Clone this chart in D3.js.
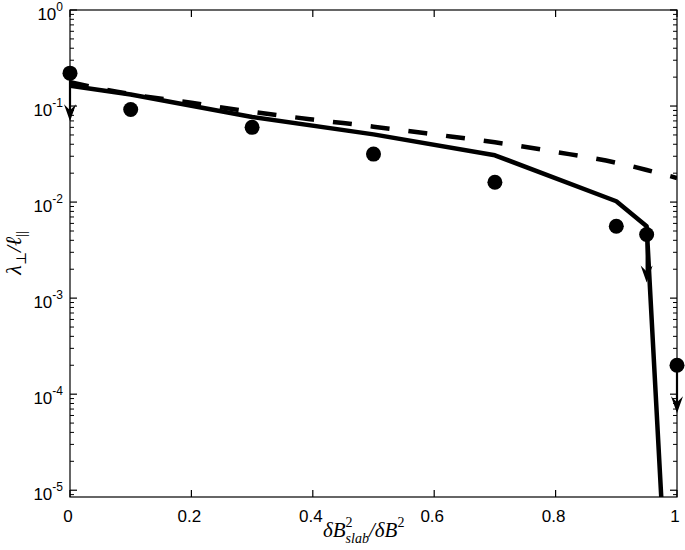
<!DOCTYPE html>
<meta charset="utf-8">
<style>
    body { margin: 0; background: white; }
    svg { display: block; }
    .tick-label { font-family: "Liberation Sans", Arial, sans-serif; font-size: 17px; fill: #000; }
    .math { font-family: "Liberation Serif", "DejaVu Serif", serif; font-style: italic; fill: #000; }
</style>
<svg width="685" height="550"></svg>
<script src="https://cdn.jsdelivr.net/npm/d3@7"></script>
<script>
    // simulation points (filled circles), arrows mark upper limits
    var simX = [0, 0.1, 0.3, 0.5, 0.7, 0.9, 0.95, 1];
    var simY = [0.22, 0.092, 0.060, 0.0316, 0.0161, 0.0056, 0.0046, 0.0002];
    var upperLimit = [true, false, false, false, false, false, true, true];

    // solid curve
    var solidX = [0, 0.1, 0.3, 0.5, 0.7, 0.9, 0.95, 0.98];
    var solidY = [0.163, 0.132, 0.077, 0.0507, 0.0307, 0.0102, 0.0056, 0.0000017];

    // dashed curve
    var dashX = [0, 0.1, 0.2, 0.3, 0.4, 0.5, 0.6, 0.7, 0.8, 0.9, 0.95, 1];
    var dashY = [0.177, 0.133, 0.108, 0.0871, 0.0724, 0.061, 0.0507, 0.0419, 0.0333, 0.0257, 0.0216, 0.0178];

    var xTicks = [0, 0.2, 0.4, 0.6, 0.8, 1];
    var xTickLabels = ["0", "0.2", "0.4", "0.6", "0.8", "1"];
    var yTicks = [1, 0.1, 0.01, 0.001, 0.0001, 0.00001];
    var yTickExp = ["0", "-1", "-2", "-3", "-4", "-5"];

    var svg = d3.select("svg"),
        pLeft = 70, pRight = 677, pTop = 10, pBottom = 497;

    var x = d3.scaleLinear().domain([0, 1]).range([pLeft, pRight]);
    var y = d3.scaleLog().domain([8.5e-6, 1]).range([pBottom, pTop]);

    svg.append("clipPath").attr("id", "plotclip")
        .append("rect")
        .attr("x", pLeft).attr("y", pTop)
        .attr("width", pRight - pLeft).attr("height", pBottom - pTop);

    var line = d3.line()
        .x(function(d) { return x(d[0]); })
        .y(function(d) { return y(d[1]); });

    var plot = svg.append("g").attr("clip-path", "url(#plotclip)");

    plot.append("path")
        .datum(d3.zip(dashX, dashY))
        .attr("d", line.curve(d3.curveMonotoneX))
        .attr("fill", "none")
        .attr("stroke", "#000")
        .attr("stroke-width", 4.5)
        .attr("stroke-dasharray", "19,19");

    plot.append("path")
        .datum(d3.zip(solidX, solidY))
        .attr("d", line.curve(d3.curveLinear))
        .attr("fill", "none")
        .attr("stroke", "#000")
        .attr("stroke-width", 4.5)
        .attr("stroke-linejoin", "round");

    // upper limit arrows, half a decade long
    var pts = d3.zip(simX, simY, upperLimit);
    var arrows = svg.append("g").selectAll("g")
        .data(pts.filter(function(d) { return d[2]; }))
        .enter().append("g");

    arrows.append("line")
        .attr("x1", function(d) { return x(d[0]); })
        .attr("x2", function(d) { return x(d[0]); })
        .attr("y1", function(d) { return y(d[1]); })
        .attr("y2", function(d) { return y(d[1] * Math.pow(10, -0.5)) - 8; })
        .attr("stroke", "#000")
        .attr("stroke-width", 2.2);

    arrows.append("path")
        .attr("d", function(d) {
            var cx = x(d[0]), ty = y(d[1] * Math.pow(10, -0.5));
            return "M" + cx + "," + ty + "L" + (cx - 6) + "," + (ty - 17) +
                "L" + cx + "," + (ty - 11) + "L" + (cx + 6) + "," + (ty - 17) + "Z";
        })
        .attr("fill", "#000");

    svg.append("g").selectAll("circle")
        .data(pts)
        .enter().append("circle")
        .attr("cx", function(d) { return x(d[0]); })
        .attr("cy", function(d) { return y(d[1]); })
        .attr("r", 7.5)
        .attr("fill", "#000");

    // box
    svg.append("rect")
        .attr("x", pLeft).attr("y", pTop)
        .attr("width", pRight - pLeft).attr("height", pBottom - pTop)
        .attr("fill", "none").attr("stroke", "#000").attr("stroke-width", 1.2);

    // x ticks, bottom and top, pointing inwards
    var xt = svg.append("g");
    xTicks.forEach(function(v, i) {
        xt.append("line").attr("x1", x(v)).attr("x2", x(v)).attr("y1", pBottom).attr("y2", pBottom - 7)
            .attr("stroke", "#000").attr("stroke-width", 1.2);
        xt.append("line").attr("x1", x(v)).attr("x2", x(v)).attr("y1", pTop).attr("y2", pTop + 7)
            .attr("stroke", "#000").attr("stroke-width", 1.2);
        xt.append("text").attr("class", "tick-label")
            .attr("x", x(v) - 2).attr("y", 522)
            .attr("text-anchor", "middle")
            .text(xTickLabels[i]);
    });

    // y ticks, major and minor, both sides
    var yt = svg.append("g");
    var minor = [];
    for (var e = -6; e < 0; e++) {
        for (var m = 2; m <= 9; m++) {
            var v = m * Math.pow(10, e);
            if (v > y.domain()[0] && v < 1) minor.push(v);
        }
    }
    minor.forEach(function(v) {
        [[pLeft, pLeft + 4], [pRight, pRight - 4]].forEach(function(s) {
            yt.append("line").attr("x1", s[0]).attr("x2", s[1]).attr("y1", y(v)).attr("y2", y(v))
                .attr("stroke", "#000").attr("stroke-width", 1);
        });
    });
    yTicks.forEach(function(v, i) {
        [[pLeft, pLeft + 7], [pRight, pRight - 7]].forEach(function(s) {
            yt.append("line").attr("x1", s[0]).attr("x2", s[1]).attr("y1", y(v)).attr("y2", y(v))
                .attr("stroke", "#000").attr("stroke-width", 1.2);
        });
        var t = yt.append("text").attr("class", "tick-label")
            .attr("x", 63).attr("y", y(v) + 10)
            .attr("text-anchor", "end");
        t.append("tspan").text("10");
        t.append("tspan").attr("dy", -9).attr("font-size", 12).text(yTickExp[i]);
    });

    // x axis title: dB^2_slab / dB^2
    var xl = svg.append("text").attr("class", "math")
        .attr("x", 323).attr("y", 537).attr("font-size", 21);
    xl.append("tspan").text("\u03b4B");
    xl.append("tspan").attr("dy", -10).attr("font-size", 14).attr("font-style", "normal").text("2");
    xl.append("tspan").attr("dx", -7).attr("dy", 16).attr("font-size", 14).text("slab");
    xl.append("tspan").attr("dy", -6).text("/\u03b4B");
    xl.append("tspan").attr("dy", -10).attr("font-size", 14).attr("font-style", "normal").text("2");

    // y axis title: lambda_perp / l_||
    var yl = svg.append("text").attr("class", "math")
        .attr("transform", "translate(21,253) rotate(-90)")
        .attr("text-anchor", "middle")
        .attr("font-size", 22);
    yl.append("tspan").text("\u03bb");
    yl.append("tspan").attr("dy", 5).attr("font-size", 14).attr("font-style", "normal").text("\u22a5");
    yl.append("tspan").attr("dy", -5).text("/\u2113");
    yl.append("tspan").attr("dy", 5).attr("font-size", 14).attr("font-style", "normal").text("||");
</script>
